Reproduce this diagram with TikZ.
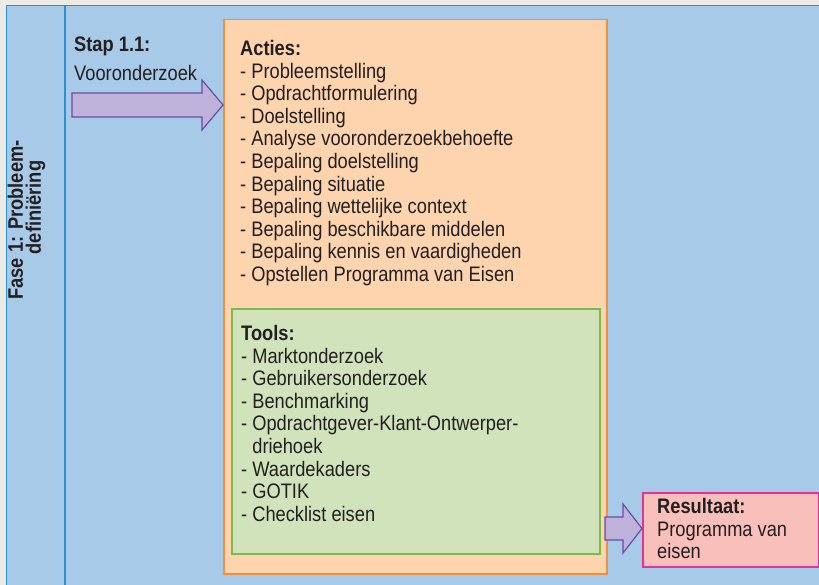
\documentclass[tikz,border=0pt]{standalone}
\usepackage{fontspec}
\setmainfont{Liberation Sans}[FakeStretch=0.87]
\definecolor{margin}{HTML}{EDEBE6}
\definecolor{bluebg}{HTML}{A8CAE9}
\definecolor{blueline}{HTML}{2B8FD3}
\definecolor{orfill}{HTML}{FDD4AE}
\definecolor{ordraw}{HTML}{F18F3B}
\definecolor{grfill}{HTML}{D0E3BA}
\definecolor{grdraw}{HTML}{7CBA49}
\definecolor{pufill}{HTML}{BFB2DA}
\definecolor{pudraw}{HTML}{6A4CA6}
\definecolor{pkfill}{HTML}{F9BFBA}
\definecolor{pkdraw}{HTML}{E2339C}
\definecolor{ink}{HTML}{231F20}
\begin{document}
\begin{tikzpicture}[x=1pt,y=-1pt,
  boxstyle/.style={rectangle, anchor=north west, inner sep=0pt, line width=1.5pt},
  txt/.style={anchor=north west, inner sep=0pt, align=left, text=ink,
     font=\fontsize{21}{22.6}\selectfont},
  bigarrow/.style={fill=pufill, draw=pudraw, line width=1.2pt, line join=miter}]
\useasboundingbox (0,0) rectangle (819,585);
% background
\fill[margin] (0,0) rectangle (819,585);
\fill[bluebg] (6.5,5.5) rectangle (819,585);
\draw[blueline, line width=1.5pt] (6.5,585) -- (6.5,5.5) -- (819,5.5);
\draw[blueline, line width=1.5pt] (65,5.5) -- (65,585);
% phase label
\node[rotate=90, align=center, inner sep=0pt, text=ink,
  font=\bfseries\fontsize{21}{18}\selectfont] (fase) at (26.5,220)
  {Fase 1: Probleem-\\\hspace*{25pt}definiëring};
% step label
\node[txt] (stap) at (74,37) {\textbf{Stap 1.1:}};
\node[txt] (voor) at (74,65) {Vooronderzoek};
% boxes
\node[boxstyle, fill=orfill, draw=ordraw, minimum width=383pt, minimum height=554pt] (actbox) at (223,19) {};
\node[boxstyle, fill=grfill, draw=grdraw, minimum width=368pt, minimum height=245pt] (toolbox) at (231,308) {};
\node[boxstyle, fill=pkfill, draw=pkdraw, minimum width=176pt, minimum height=74pt] (resbox) at (642,492) {};
% arrows
\coordinate (a1) at (72,105);
\path[bigarrow] (72,93) -- (202,93) -- (202,80) -- (actbox.west |- a1) -- (202,130) -- (202,117) -- (72,117) -- cycle;
\coordinate (a2) at (605,528.5);
\path[bigarrow] (605,517) -- (623,517) -- (623,504) -- (resbox.west |- a2) -- (623,553) -- (623,540) -- (605,540) -- cycle;
% texts
\node[txt] (acties) at (240,40) {\textbf{Acties:}\\
- Probleemstelling\\
- Opdrachtformulering\\
- Doelstelling\\
- Analyse vooronderzoekbehoefte\\
- Bepaling doelstelling\\
- Bepaling situatie\\
- Bepaling wettelijke context\\
- Bepaling beschikbare middelen\\
- Bepaling kennis en vaardigheden\\
- Opstellen Programma van Eisen};
\node[txt] (tools) at (241,325) {\textbf{Tools:}\\
- Marktonderzoek\\
- Gebruikersonderzoek\\
- Benchmarking\\
- Opdrachtgever-Klant-Ontwerper-\\
\phantom{- }driehoek\\
- Waardekaders\\
- GOTIK\\
- Checklist eisen};
\node[txt] (res) at (657,498) {\textbf{Resultaat:}\\
Programma van\\
eisen};
\end{tikzpicture}
\end{document}
